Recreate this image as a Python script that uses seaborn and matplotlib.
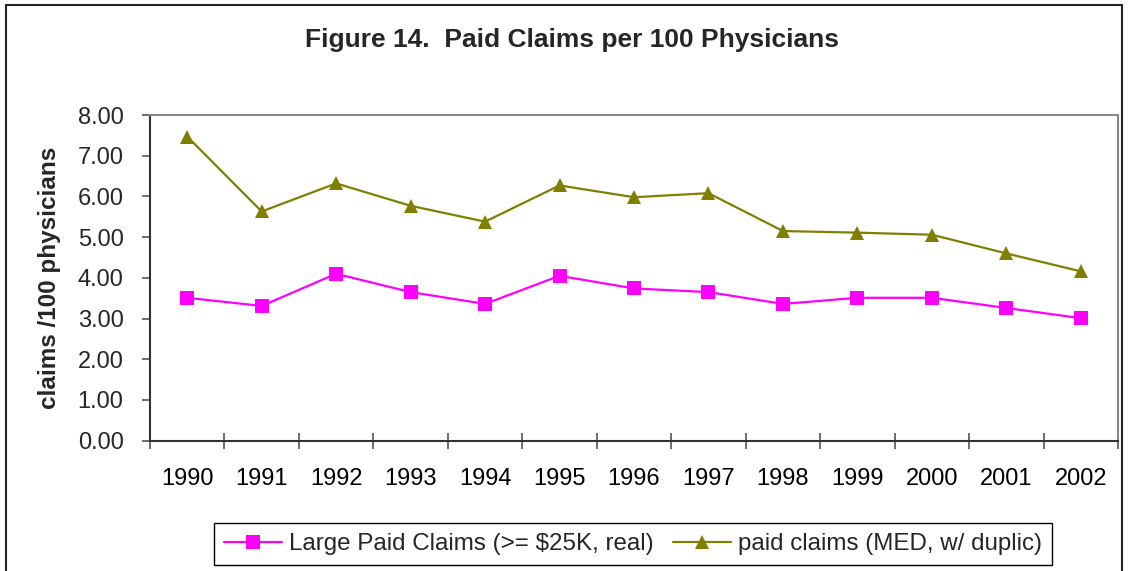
import pandas as pd
import matplotlib
matplotlib.use("Agg")
import matplotlib.pyplot as plt
import matplotlib.ticker as ticker
from matplotlib.patches import Rectangle
import seaborn as sns

# Data
years = ["1990", "1991", "1992", "1993", "1994", "1995", "1996",
         "1997", "1998", "1999", "2000", "2001", "2002"]
large_paid = [3.51, 3.31, 4.10, 3.65, 3.36, 4.05, 3.74,
              3.65, 3.36, 3.51, 3.51, 3.26, 3.01]
paid_med = [7.47, 5.63, 6.32, 5.77, 5.38, 6.27, 5.98,
            6.08, 5.15, 5.11, 5.06, 4.60, 4.16]
series_names = ["Large Paid Claims (>= $25K, real)", "paid claims (MED, w/ duplic)"]

df = pd.DataFrame({
    "year": years * 2,
    "value": large_paid + paid_med,
    "series": [series_names[0]] * len(years) + [series_names[1]] * len(years),
})

sns.set_theme(style="white")
plt.rcParams["font.family"] = ["Liberation Sans", "DejaVu Sans"]

fig = plt.figure(figsize=(11.3, 5.71), dpi=100)
ax = fig.add_axes([150 / 1130, 1 - 440.7 / 571, 968 / 1130, 325.7 / 571])

sns.lineplot(data=df, x="year", y="value", hue="series", style="series",
             palette=["#FF00FF", "#808000"], markers=["s", "^"], dashes=False,
             markersize=10, markeredgewidth=0, linewidth=1.6, sort=False, ax=ax)

ax.set_xlim(-0.5, len(years) - 0.5)
ax.set_ylim(0, 8)
ax.yaxis.set_major_locator(ticker.MultipleLocator(1))
ax.yaxis.set_major_formatter(ticker.FormatStrFormatter("%.2f"))
ax.xaxis.set_minor_locator(ticker.FixedLocator([i - 0.5 for i in range(len(years) + 1)]))

ax.tick_params(axis="x", which="major", length=0, pad=20, labelsize=17, colors="black")
ax.tick_params(axis="x", which="minor", direction="inout", length=11, width=1.2, color="#555555", bottom=True)
ax.tick_params(axis="y", which="major", direction="out", length=6, width=1.2, color="#555555",
               left=True, pad=13, labelsize=17)

for side in ["left", "bottom"]:
    ax.spines[side].set_color("#333333")
    ax.spines[side].set_linewidth(1.5)
for side in ["top", "right"]:
    ax.spines[side].set_color("#888888")
    ax.spines[side].set_linewidth(1.5)

ax.set_xlabel("")
ax.set_ylabel("claims /100 physicians", fontsize=17.5, fontweight="bold")
ax.yaxis.set_label_coords(-89 / 968, 0.5)

fig.text(572 / 1130, 1 - 40 / 571, "Figure 14.  Paid Claims per 100 Physicians",
         ha="center", va="center", fontsize=19, fontweight="bold")

handles, labels = ax.get_legend_handles_labels()
ax.legend(handles, labels, loc="center", bbox_to_anchor=(633 / 1130, 1 - 544 / 571),
          bbox_transform=fig.transFigure, ncol=2, fontsize=17.4, frameon=True,
          fancybox=False, edgecolor="black", framealpha=1, handlelength=2.4,
          handletextpad=0.3, columnspacing=0.8, borderpad=0.4)
ax.get_legend().get_frame().set_linewidth(1.0)

# outer chart border
fig.patches.append(Rectangle((6 / 1130, -0.02), 1116 / 1130, 1 - 5 / 571 + 0.02,
                             transform=fig.transFigure, fill=False,
                             edgecolor="#222222", linewidth=1.5))

fig.savefig("out.png", dpi=100)
